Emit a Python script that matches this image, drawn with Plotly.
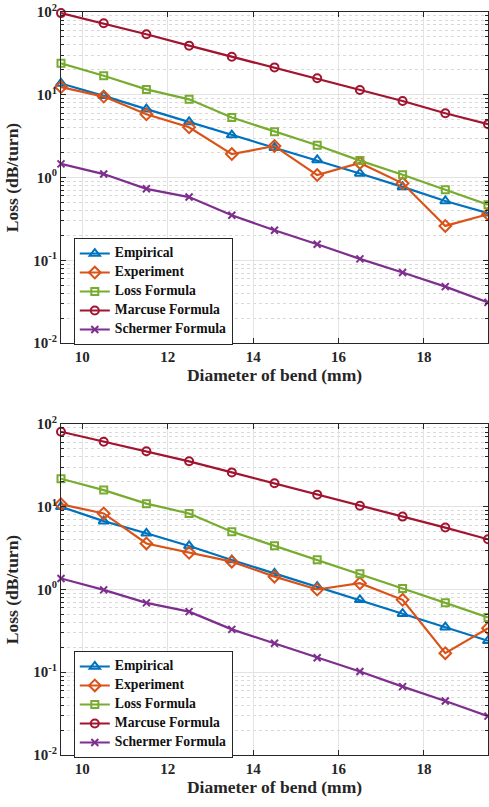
import plotly.graph_objects as go

diameter = [9.5, 10.5, 11.5, 12.5, 13.5, 14.5, 15.5, 16.5, 17.5, 18.5, 19.5]

# Top panel
top_empirical = [13.7, 9.7, 6.7, 4.7, 3.26, 2.29, 1.63, 1.12, 0.77, 0.52, 0.37]
top_experiment = [12.4, 9.5, 5.8, 4.05, 1.92, 2.4, 1.07, 1.5, 0.85, 0.26, 0.36]
top_loss = [24, 17, 11.6, 8.8, 5.3, 3.57, 2.45, 1.6, 1.08, 0.71, 0.47]
top_marcuse = [97, 73, 53.8, 39.2, 28.8, 21.4, 15.8, 11.4, 8.4, 5.97, 4.4]
top_schermer = [1.46, 1.1, 0.73, 0.58, 0.35, 0.23, 0.156, 0.104, 0.071, 0.048, 0.031]

# Bottom panel
bot_empirical = [10, 6.7, 4.78, 3.36, 2.27, 1.57, 1.08, 0.75, 0.51, 0.35, 0.24]
bot_experiment = [10.7, 8.3, 3.6, 2.78, 2.17, 1.43, 1.0, 1.19, 0.75, 0.17, 0.34]
bot_loss = [21.8, 15.9, 10.9, 8.3, 5.0, 3.38, 2.29, 1.55, 1.03, 0.69, 0.46]
bot_marcuse = [80.7, 61, 46.8, 35.4, 26, 19.2, 14, 10.3, 7.6, 5.6, 4.04]
bot_schermer = [1.36, 0.99, 0.69, 0.54, 0.33, 0.224, 0.15, 0.102, 0.067, 0.045, 0.0295]

names = ["Empirical", "Experiment", "Loss Formula", "Marcuse Formula", "Schermer Formula"]
colors = ["#0072BD", "#D95319", "#77AC30", "#A2142F", "#7E2F8E"]
symbols = ["triangle-up-open", "diamond-open", "square-open", "circle-open", "x-thin"]
sizes = [9, 9, 7, 8, 7]

x_ticks = [10, 12, 14, 16, 18]
y_tickvals = [0.01, 0.1, 1, 10, 100]
y_ticktext = ["<b>10<sup>-2</sup></b>", "<b>10<sup>-1</sup></b>", "<b>10<sup>0</sup></b>",
              "<b>10<sup>1</sup></b>", "<b>10<sup>2</sup></b>"]

FONT = "Liberation Serif"
AX = "#262626"

fig = go.Figure()

panels = [
    (["x", "y"], "legend", [top_empirical, top_experiment, top_loss, top_marcuse, top_schermer]),
    (["x2", "y2"], "legend2", [bot_empirical, bot_experiment, bot_loss, bot_marcuse, bot_schermer]),
]
for (xa, ya), leg, series in panels:
    for i, vals in enumerate(series):
        fig.add_trace(go.Scatter(
            x=diameter, y=vals,
            name='<span style="font-size:13.7px"><b>' + names[i] + "</b></span>",
            mode="lines+markers",
            xaxis=xa, yaxis=ya, legend=leg, cliponaxis=False,
            line=dict(color=colors[i], width=2.2),
            marker=dict(symbol=symbols[i], size=sizes[i], color=colors[i],
                        line=dict(color=colors[i], width=2)),
        ))

def xaxis(anchor):
    return dict(
        range=[9.5, 19.5], tickvals=x_ticks, tickmode="array",
        ticktext=["<b>%d</b>" % v for v in x_ticks],
        showgrid=True, gridcolor="#E3E3E3", gridwidth=1,
        showline=True, linecolor=AX, linewidth=1, mirror="ticks",
        ticks="inside", ticklen=5, tickcolor=AX, automargin=False,
        tickfont=dict(family=FONT, size=15, color=AX),
        title=dict(text="<b>Diameter of bend (mm)</b>", font=dict(family=FONT, size=17.5, color=AX), standoff=4),
        anchor=anchor, zeroline=False, domain=[0, 1],
    )

def yaxis(domain, anchor):
    return dict(
        type="log", range=[-2, 2], domain=domain, anchor=anchor,
        tickmode="array", tickvals=y_tickvals, ticktext=y_ticktext,
        showgrid=True, gridcolor="#E3E3E3", gridwidth=1,
        showline=True, linecolor=AX, linewidth=1, mirror="ticks",
        ticks="inside", ticklen=5, tickcolor=AX, automargin=False,
        tickfont=dict(family=FONT, size=15, color=AX),
        minor=dict(dtick="D1", ticks="inside", ticklen=3, tickcolor=AX,
                   showgrid=True, gridcolor="#D9D9D9", griddash="dot", gridwidth=1),
        title=dict(text="<b>Loss (dB/turn)</b>", font=dict(family=FONT, size=17.5, color=AX), standoff=10),
        zeroline=False,
    )

legend_common = dict(
    bgcolor="white", bordercolor=AX, borderwidth=1,
    font=dict(family=FONT, size=10, color="#111111"),
    xanchor="left", yanchor="top", tracegroupgap=0, itemwidth=30,
)

fig.update_layout(
    width=489, height=807,
    margin=dict(l=61, r=1, t=12, b=52),
    paper_bgcolor="white", plot_bgcolor="white",
    xaxis=xaxis("y"),
    yaxis=yaxis([0.5545, 1.0], "x"),
    xaxis2=xaxis("y2"),
    yaxis2=yaxis([0.0, 0.4455], "x2"),
    legend=dict(legend_common, x=0.03, y=0.6958),
    legend2=dict(legend_common, x=0.03, y=0.140),
)

fig.write_html(
    "out.html",
    config={"displayModeBar": False},
    post_script="document.body.style.margin='0';document.body.style.overflow='hidden';",
)
